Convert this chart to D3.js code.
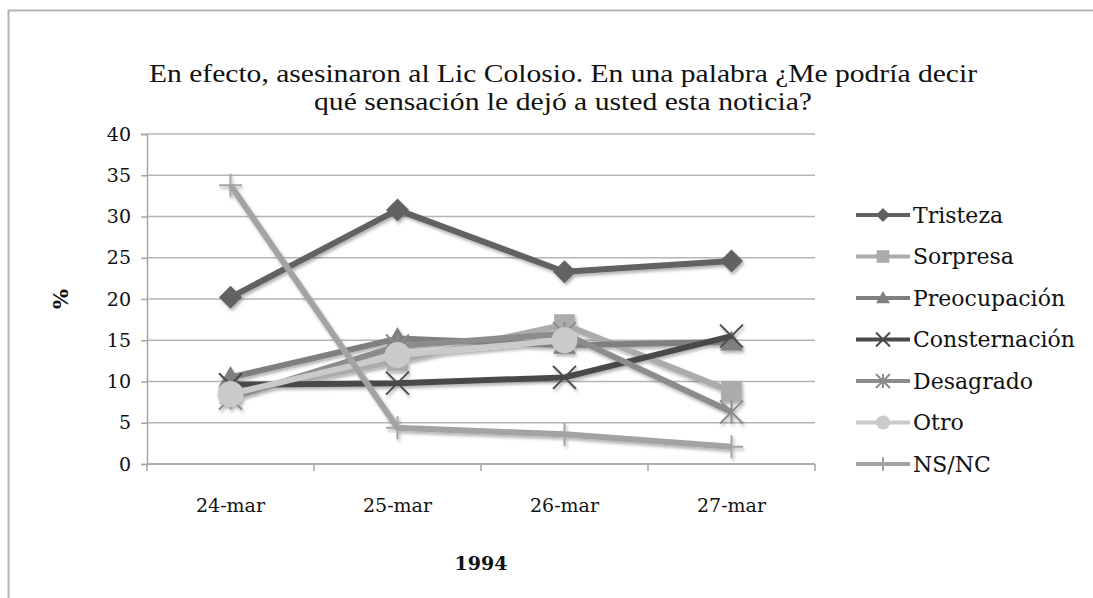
<!DOCTYPE html>
<html>
<head>
<meta charset="utf-8">
<script src="https://cdn.jsdelivr.net/npm/d3@7"></script>
<style>
  body { margin: 0; background: #fff; }
  svg text { fill: #111; }
  .lab { font-family: "DejaVu Serif", serif; }
</style>
</head>
<body>
<div id="chart"></div>
<script>
// data
const dates = ["24-mar", "25-mar", "26-mar", "27-mar"]
const tristeza = [20.2, 30.8, 23.3, 24.6]
const sorpresa = [8.5, 12.5, 16.9, 8.8]
const preocupacion = [10.5, 15.2, 14.4, 14.8]
const consternacion = [9.6, 9.8, 10.5, 15.5]
const desagrado = [8.0, 14.3, 15.8, 6.3]
const otro = [8.5, 13.2, 15.0, null]
const nsnc = [33.8, 4.4, 3.6, 2.1]
const yTicks = [0, 5, 10, 15, 20, 25, 30, 35, 40]
const titleLines = [
  "En efecto, asesinaron al Lic Colosio. En una palabra ¿Me podría decir",
  "qué sensación le dejó a usted esta noticia?"
]

const series = [
  { name: "Tristeza", values: tristeza, color: "#626262", marker: "diamond" },
  { name: "Sorpresa", values: sorpresa, color: "#ababab", marker: "square" },
  { name: "Preocupación", values: preocupacion, color: "#7f7f7f", marker: "triangle" },
  { name: "Consternación", values: consternacion, color: "#4a4a4a", marker: "x" },
  { name: "Desagrado", values: desagrado, color: "#8c8c8c", marker: "star" },
  { name: "Otro", values: otro, color: "#cacaca", marker: "circle" },
  { name: "NS/NC", values: nsnc, color: "#a3a3a3", marker: "plus" }
]

const width = 1093, height = 598
const margin = { top: 134, right: 278, bottom: 134, left: 147 }
const plotW = width - margin.left - margin.right
const plotH = height - margin.top - margin.bottom

const svg = d3.select("#chart").append("svg")
  .attr("width", width)
  .attr("height", height)

const defs = svg.append("defs")
defs.append("filter").attr("id", "shadow")
  .attr("x", "-20%").attr("y", "-20%").attr("width", "140%").attr("height", "140%")
  .append("feDropShadow")
  .attr("dx", 1.5).attr("dy", 2.5).attr("stdDeviation", 1.8)
  .attr("flood-color", "#000").attr("flood-opacity", 0.3)

// outer frame (right and bottom are out of view)
svg.append("path")
  .attr("d", "M8.5,598 V10.5 H1093")
  .attr("fill", "none")
  .attr("stroke", "#b3b3b3")
  .attr("stroke-width", 2)

// title, stretched a bit wider like the original
svg.selectAll(".title")
  .data(titleLines)
  .join("text")
  .attr("class", "title")
  .attr("font-family", "Liberation Serif")
  .attr("font-size", 25)
  .attr("text-anchor", "middle")
  .attr("x", 563)
  .attr("y", (d, i) => 82 + i * 28)
  .attr("textLength", (d, i) => i === 0 ? 828 : 498)
  .attr("lengthAdjust", "spacingAndGlyphs")
  .text(d => d)

const g = svg.append("g")
  .attr("transform", "translate(" + margin.left + "," + margin.top + ")")

const x = d3.scaleBand().domain(dates).range([0, plotW])
const y = d3.scaleLinear().domain([0, 40]).range([plotH, 0])
const cx = d => x(d) + x.bandwidth() / 2

// gridlines
g.append("g")
  .selectAll("line")
  .data(yTicks)
  .join("line")
  .attr("x1", 0).attr("x2", plotW)
  .attr("y1", d => y(d)).attr("y2", d => y(d))
  .attr("stroke", "#b5b5b5")
  .attr("stroke-width", 1.5)

// y axis
const yAxis = g.append("g")
  .call(d3.axisLeft(y).tickValues(yTicks).tickSize(6).tickPadding(10))
yAxis.select(".domain").attr("stroke", "#a6a6a6").attr("stroke-width", 1.5)
yAxis.selectAll(".tick line").attr("stroke", "#a6a6a6").attr("stroke-width", 1.5)
yAxis.selectAll("text")
  .attr("class", "lab")
  .style("font-size", "19px")
  .attr("fill", "#111")

// x axis: ticks between categories
const xAxis = g.append("g").attr("transform", "translate(0," + plotH + ")")
xAxis.append("line")
  .attr("x1", 0).attr("x2", plotW)
  .attr("stroke", "#a6a6a6").attr("stroke-width", 1.5)
xAxis.selectAll(".sep")
  .data(dates.concat(["end"]))
  .join("line")
  .attr("class", "sep")
  .attr("x1", (d, i) => i * x.step()).attr("x2", (d, i) => i * x.step())
  .attr("y1", 0).attr("y2", 7)
  .attr("stroke", "#a6a6a6").attr("stroke-width", 1.5)
xAxis.selectAll(".xl")
  .data(dates)
  .join("text")
  .attr("class", "lab")
  .attr("x", d => cx(d))
  .attr("y", 48)
  .attr("text-anchor", "middle")
  .style("font-size", "19px")
  .text(d => d)

// axis titles
svg.append("text")
  .attr("class", "lab")
  .attr("transform", "translate(61," + (margin.top + y(20)) + ") rotate(-90)")
  .attr("text-anchor", "middle")
  .attr("dy", "0.35em")
  .style("font-weight", "bold")
  .style("font-size", "21px")
  .text("%")
svg.append("text")
  .attr("class", "lab")
  .attr("x", 481).attr("y", 570)
  .attr("text-anchor", "middle")
  .style("font-weight", "bold")
  .style("font-size", "19px")
  .text("1994")

// marker shapes
function drawMarker(sel, type, color, s) {
  const h = s / 2
  if (type === "diamond") {
    sel.append("path").attr("d", `M0,${-h}L${h},0L0,${h}L${-h},0Z`)
      .attr("fill", color)
  } else if (type === "square") {
    sel.append("rect").attr("x", -h * 0.9).attr("y", -h * 0.9)
      .attr("width", s * 0.9).attr("height", s * 0.9).attr("fill", color)
  } else if (type === "triangle") {
    sel.append("path").attr("d", `M0,${-h}L${h},${h * 0.75}L${-h},${h * 0.75}Z`)
      .attr("fill", color)
  } else if (type === "circle") {
    sel.append("circle").attr("r", h).attr("fill", color)
  } else if (type === "x") {
    sel.append("path").attr("d", `M${-h},${-h}L${h},${h}M${-h},${h}L${h},${-h}`)
      .attr("stroke", color).attr("stroke-width", 2)
  } else if (type === "star") {
    sel.append("path")
      .attr("d", `M${-h},${-h}L${h},${h}M${-h},${h}L${h},${-h}M0,${-h}V${h}`)
      .attr("stroke", color).attr("stroke-width", 2)
  } else if (type === "plus") {
    sel.append("path").attr("d", `M${-h},0H${h}M0,${-h}V${h}`)
      .attr("stroke", color).attr("stroke-width", 2)
  }
}

const line = d3.line()
  .defined(d => d.v != null)
  .x(d => cx(d.date))
  .y(d => y(d.v))

const seriesG = g.append("g").attr("filter", "url(#shadow)")
series.forEach(s => {
  const pts = s.values.map((v, i) => ({ date: dates[i], v: v }))
  const sg = seriesG.append("g")
  sg.append("path")
    .datum(pts)
    .attr("fill", "none")
    .attr("stroke", s.color)
    .attr("stroke-width", 6)
    .attr("stroke-linejoin", "round")
    .attr("d", line)
  pts.filter(d => d.v != null).forEach(d => {
    const m = sg.append("g").attr("transform", `translate(${cx(d.date)},${y(d.v)})`)
    drawMarker(m, s.marker, s.color, s.marker === "circle" ? 26 : 23)
  })
})

// legend
const legend = svg.append("g").attr("transform", "translate(856,215)")
series.forEach((s, i) => {
  const row = legend.append("g").attr("transform", `translate(0,${i * 41.5})`)
  row.append("line")
    .attr("x1", 0).attr("x2", 54)
    .attr("stroke", s.color).attr("stroke-width", 4)
  const m = row.append("g").attr("transform", "translate(27,0)")
  drawMarker(m, s.marker, s.color, 14)
  row.append("text")
    .attr("class", "lab")
    .attr("x", 57).attr("dy", "0.35em")
    .style("font-size", "22px")
    .text(s.name)
})
</script>
</body>
</html>
